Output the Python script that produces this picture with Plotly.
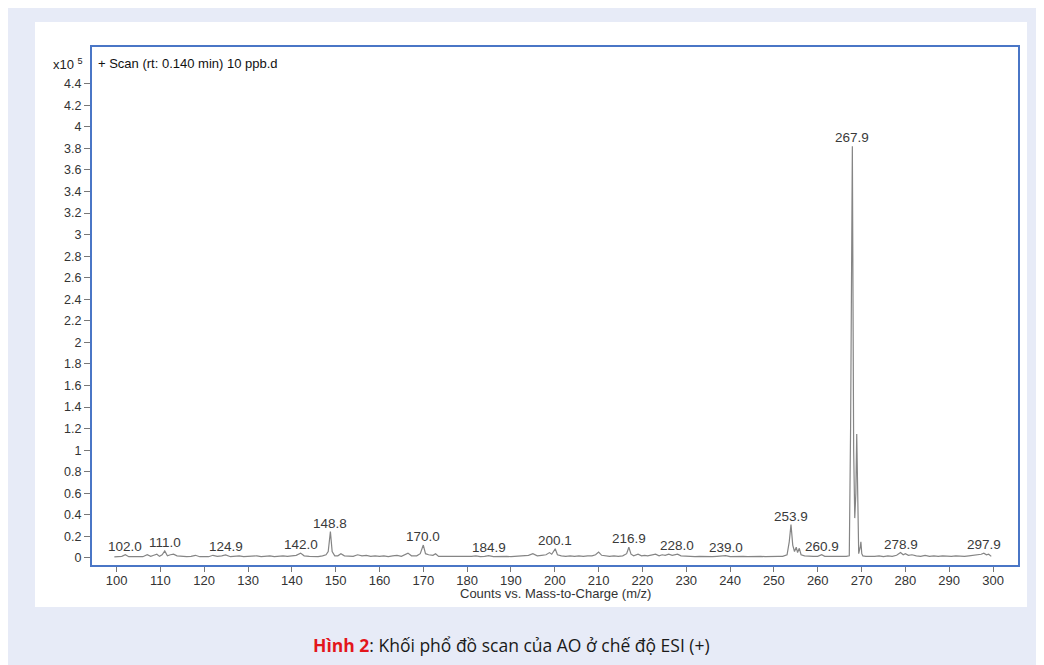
import plotly.graph_objects as go

# ---- data (intensity in x10^5 counts) ----
mz = [99.5, 100.5, 101.2, 102.0, 102.8, 104, 105, 106, 107, 107.8, 108.5, 109.2, 109.8, 110.4, 111.0, 111.6,
      112.3, 113.0, 113.8, 115, 116, 117, 118, 119, 120, 121, 122, 123, 124, 124.9, 126, 127, 128, 129, 130,
      131, 132, 133, 134, 135, 136, 137, 138, 139, 140, 141, 142.0, 142.8, 144, 145, 146, 147, 147.8, 148.3,
      148.8, 149.2, 149.8, 150.5, 151.2, 152, 153, 154, 155, 156, 157, 158, 159, 160, 161, 162, 163, 164, 165,
      166.5, 167.3, 168.5, 169.3, 170.0, 170.5, 171.2, 172.2, 172.8, 173.5, 175, 176, 177, 178, 179, 180, 181,
      182, 183, 184, 184.9, 186, 187, 188, 189, 190, 191, 192, 193, 194, 195, 196, 197, 198, 198.8, 199.3,
      200.1, 200.6, 201.5, 202.5, 203.5, 204.5, 205.5, 206.5, 207.5, 208.5, 209.3, 210.0, 210.7, 211.5, 212.5,
      213.5, 214.5, 215.5, 216.4, 216.9, 217.4, 218, 219, 219.8, 220.5, 221.2, 222, 223, 223.8, 224.5, 225.2,
      226, 226.8, 227.5, 228.0, 228.8, 230, 231, 232, 233, 234, 235, 236, 237, 238, 239.0, 240, 241, 242, 243,
      244, 245, 246, 247, 248, 249, 250, 251, 252, 253, 253.5, 253.9, 254.3, 254.7, 255.1, 255.4, 255.8, 256.2,
      257, 258, 259, 260, 260.9, 261.6, 262.5, 263.5, 264.5, 265.5, 266.5, 267.2, 267.5, 267.9, 268.2, 268.45,
      268.7, 268.9, 269.1, 269.35, 269.7, 269.85, 270.05, 270.3, 271, 272, 273, 274, 275, 276, 277, 278, 278.9,
      279.5, 280, 280.7, 281.5, 282.5, 283.5, 284.5, 285.5, 286.5, 287.5, 288.5, 289.5, 290.5, 291.5, 292.5,
      293.5, 294.5, 295.5, 296.5, 297.3, 297.9, 298.5, 299, 299.6]
intensity = [0.01, 0.012, 0.015, 0.03, 0.012, 0.012, 0.015, 0.012, 0.03, 0.015, 0.025, 0.035, 0.015, 0.03, 0.065,
             0.02, 0.03, 0.035, 0.02, 0.015, 0.012, 0.015, 0.025, 0.012, 0.015, 0.012, 0.025, 0.015, 0.02, 0.028,
             0.012, 0.015, 0.02, 0.012, 0.015, 0.012, 0.02, 0.012, 0.015, 0.02, 0.012, 0.015, 0.02, 0.015, 0.02,
             0.025, 0.045, 0.02, 0.015, 0.015, 0.012, 0.02, 0.03, 0.06, 0.245, 0.06, 0.02, 0.02, 0.04, 0.02, 0.02,
             0.015, 0.03, 0.02, 0.025, 0.015, 0.02, 0.015, 0.02, 0.012, 0.02, 0.025, 0.015, 0.045, 0.02, 0.02,
             0.04, 0.12, 0.04, 0.03, 0.025, 0.04, 0.015, 0.015, 0.012, 0.015, 0.012, 0.015, 0.012, 0.015, 0.02,
             0.012, 0.015, 0.022, 0.012, 0.015, 0.012, 0.015, 0.012, 0.015, 0.02, 0.02, 0.025, 0.04, 0.02, 0.025,
             0.03, 0.05, 0.035, 0.085, 0.03, 0.02, 0.015, 0.02, 0.015, 0.02, 0.015, 0.02, 0.02, 0.03, 0.055, 0.025,
             0.02, 0.015, 0.02, 0.015, 0.02, 0.04, 0.1, 0.035, 0.02, 0.035, 0.02, 0.025, 0.02, 0.025, 0.035, 0.02,
             0.03, 0.025, 0.035, 0.025, 0.035, 0.035, 0.02, 0.015, 0.015, 0.012, 0.015, 0.012, 0.015, 0.012, 0.015,
             0.018, 0.022, 0.012, 0.015, 0.012, 0.015, 0.012, 0.015, 0.012, 0.015, 0.012, 0.015, 0.012, 0.015,
             0.015, 0.03, 0.15, 0.31, 0.12, 0.06, 0.1, 0.05, 0.09, 0.03, 0.02, 0.015, 0.015, 0.015, 0.03, 0.015,
             0.015, 0.012, 0.015, 0.012, 0.015, 0.02, 1.2, 3.82, 1.0, 0.37, 0.6, 1.15, 0.6, 0.04, 0.1, 0.15, 0.04,
             0.02, 0.015, 0.012, 0.015, 0.02, 0.012, 0.02, 0.015, 0.025, 0.05, 0.03, 0.04, 0.025, 0.03, 0.02, 0.015,
             0.025, 0.015, 0.02, 0.015, 0.02, 0.015, 0.015, 0.02, 0.015, 0.015, 0.02, 0.025, 0.03, 0.035, 0.045,
             0.03, 0.035, 0.015]

label_mz = [102.0, 111.0, 124.9, 142.0, 148.8, 170.0, 184.9, 200.1, 216.9, 228.0, 239.0, 253.9, 260.9, 267.9,
            278.9, 297.9]
label_height = [0.03, 0.065, 0.028, 0.045, 0.245, 0.12, 0.022, 0.085, 0.1, 0.035, 0.022, 0.31, 0.03, 3.82,
                0.05, 0.045]
label_text = ["102.0", "111.0", "124.9", "142.0", "148.8", "170.0", "184.9", "200.1", "216.9", "228.0",
              "239.0", "253.9", "260.9", "267.9", "278.9", "297.9"]

x_ticks = list(range(100, 301, 10))
y_tick_vals = [i / 5 for i in range(0, 23)]
y_tick_text = ["0", "0.2", "0.4", "0.6", "0.8", "1", "1.2", "1.4", "1.6", "1.8", "2", "2.2", "2.4", "2.6",
               "2.8", "3", "3.2", "3.4", "3.6", "3.8", "4", "4.2", "4.4"]

W, H = 1044, 665
OFF = 8  # page body margin
L, T = 92 - OFF, 47 - OFF
R = W - (1018 - OFF)
B = H - (565 - OFF)
pw, ph = W - L - R, H - T - B


def px(x):
    return (x - OFF - L) / pw


def py(y):
    return (H - B - (y - OFF)) / ph


FONT = "Liberation Sans, Arial, sans-serif"

fig = go.Figure()
fig.add_trace(go.Scatter(x=mz, y=intensity, mode="lines",
                         line=dict(color="#858585", width=1.2), hoverinfo="x+y", showlegend=False))

ann = []
for xm, yh, t in zip(label_mz, label_height, label_text):
    ann.append(dict(x=xm, y=yh, text=t, showarrow=False, xanchor="center", yanchor="bottom", yshift=-1,
                    font=dict(family=FONT, size=13.5, color="#3a3a3a")))

ann.append(dict(xref="paper", yref="paper", x=px(96), y=py(63), text="+ Scan (rt: 0.140 min) 10 ppb.d",
                showarrow=False, xanchor="left", yanchor="middle",
                font=dict(family=FONT, size=13, color="#111")))
ann.append(dict(xref="paper", yref="paper", x=px(85), y=py(64), text="x10 <sup>5</sup>",
                showarrow=False, xanchor="right", yanchor="middle",
                font=dict(family=FONT, size=13, color="#222")))
ann.append(dict(xref="paper", yref="paper", x=px(555), y=py(593), text="Counts vs. Mass-to-Charge (m/z)",
                showarrow=False, xanchor="center", yanchor="middle",
                font=dict(family=FONT, size=13, color="#333")))
ann.append(dict(xref="paper", yref="paper", x=px(511), y=py(645),
                text="<b><span style='color:#e3161c'>Hình 2</span></b>: Khối phổ đồ scan của AO ở chế độ ESI (+)",
                showarrow=False, xanchor="center", yanchor="middle",
                font=dict(family="Open Sans, Noto Sans, sans-serif", size=17.5, color="#1a1a1a")))

shapes = [
    dict(type="rect", xref="paper", yref="paper", x0=px(35), x1=px(1027), y0=py(607), y1=py(22),
         fillcolor="white", line=dict(width=0), layer="below"),
]

fig.update_layout(
    width=W, height=H,
    margin=dict(l=L, r=R, t=T, b=B),
    paper_bgcolor="#e7ebf7", plot_bgcolor="white",
    annotations=ann, shapes=shapes,
    showlegend=False,
    xaxis=dict(range=[94.4, 305.7], tickvals=x_ticks, ticks="outside", ticklen=5, tickcolor="#777",
               ticklabelstandoff=-3,
               showgrid=False, zeroline=False, showline=True, linecolor="#4a76c6", linewidth=2,
               mirror=True, tickfont=dict(family=FONT, size=13, color="#333")),
    yaxis=dict(range=[-0.065, 4.74], tickvals=y_tick_vals, ticktext=y_tick_text, ticks="outside",
               ticklen=6, tickcolor="#777", showgrid=False, zeroline=False, showline=True,
               linecolor="#4a76c6", linewidth=2, mirror=True,
               tickfont=dict(family=FONT, size=12.5, color="#333")),
)

fig.write_html("out.html")
